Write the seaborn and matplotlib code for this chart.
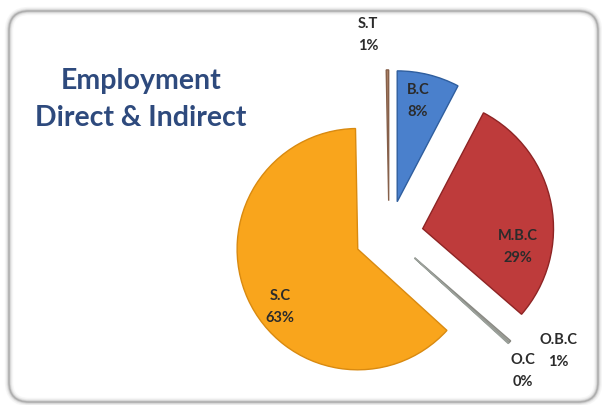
import matplotlib
matplotlib.use("Agg")
import matplotlib.pyplot as plt
from matplotlib.patches import FancyBboxPatch
import seaborn as sns
import numpy as np

# ---- data ----
categories = ["B.C", "M.B.C", "O.B.C", "O.C", "S.C", "S.T"]
values = [7.7, 28.7, 0.3, 0.1, 63.0, 0.3]
pct_labels = ["8%", "29%", "1%", "0%", "63%", "1%"]
title_lines = ["Employment", "Direct & Indirect"]

colors = ["#4A80CC", "#BE3B3B", "#A3A39C", "#B0B5B0", "#F9A51C", "#A97F63"]
edges = ["#2F5E9E", "#8E2424", "#8A8A84", "#9AA09A", "#D98A10", "#86604A"]
radius_scale = [1.03, 1.03, 1.0, 1.0, 0.95, 1.03]

sns.set_theme(style="white")
plt.rcParams["font.family"] = ["Lato", "DejaVu Sans"]

W, H = 602, 406
fig = plt.figure(figsize=(W / 100, H / 100), dpi=100)
ax = fig.add_axes([0, 0, 1, 1])

# rounded frame with soft inner shadow
for lw, a in [(6, 0.06), (4, 0.10), (2.5, 0.18), (1.2, 0.35)]:
    box = FancyBboxPatch((9, 3), 589, 391,
                         boxstyle="round,pad=0,rounding_size=20",
                         fc="none", ec="#707070", lw=lw, alpha=a, zorder=1)
    ax.add_patch(box)

# pie
cx, cy, r = 389, H - 236, 127
explode_frac = 0.27
wedges, _ = ax.pie(values, colors=colors, startangle=90, counterclock=False,
                   center=(cx, cy), radius=r,
                   explode=[explode_frac * r] * len(values),
                   wedgeprops=dict(linewidth=1.0), frame=True)
for w, ec, rs in zip(wedges, edges, radius_scale):
    w.set_edgecolor(ec)
    w.set_radius(r * rs)
    w.set_zorder(2)
ax.set_xlim(0, W)
ax.set_ylim(0, H)
ax.set_aspect("equal")
ax.axis("off")

# label positions (pixel coords from reference, top-left origin)
label_pos = {
    "B.C": (418, 101),
    "M.B.C": (518, 247),
    "O.B.C": (558, 351),
    "O.C": (523, 371),
    "S.C": (280, 307),
    "S.T": (368, 35),
}
for cat, pct in zip(categories, pct_labels):
    x, y = label_pos[cat]
    ax.text(x, H - y, f"{cat}\n{pct}", ha="center", va="center",
            fontsize=10.5, fontweight="bold", color="#2b2b2b",
            linespacing=1.65, zorder=5)

# title
ax.text(141, H - 81, title_lines[0], ha="center", va="center",
        fontsize=20.5, fontweight="bold", color="#2E4A7D", zorder=5)
ax.text(141, H - 118, title_lines[1], ha="center", va="center",
        fontsize=20.5, fontweight="bold", color="#2E4A7D", zorder=5)

fig.savefig("out.png", dpi=100)
